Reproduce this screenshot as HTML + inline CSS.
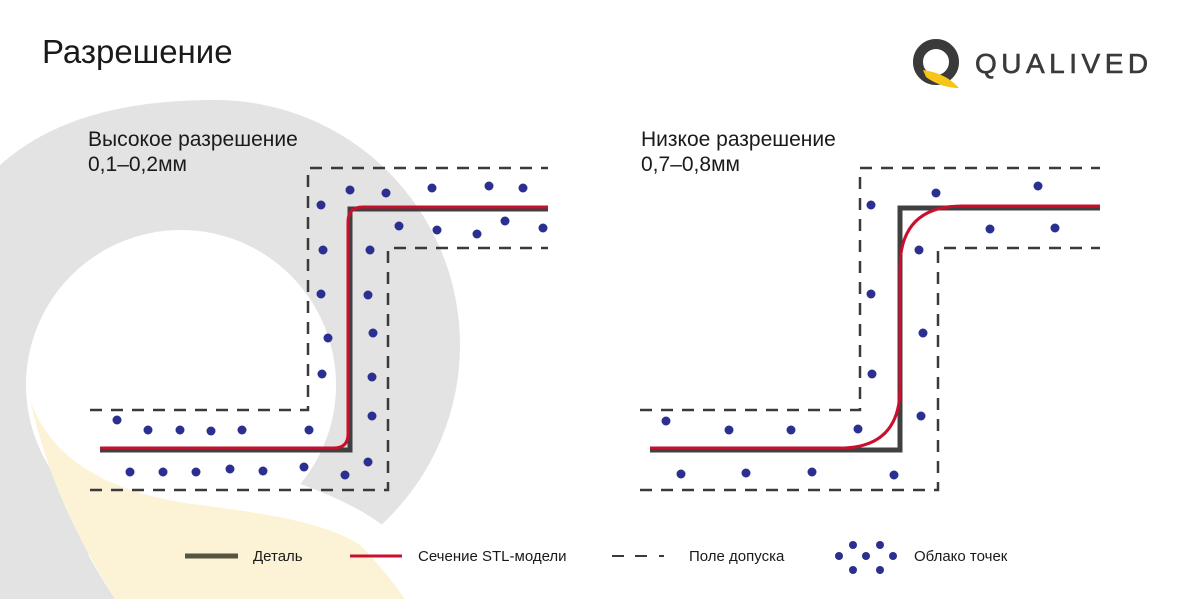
<!DOCTYPE html>
<html><head><meta charset="utf-8"><style>
html,body{margin:0;padding:0;background:#fff;}
svg{display:block;font-family:"Liberation Sans",sans-serif;}
</style></head><body>
<svg width="1200" height="599" viewBox="0 0 1200 599" xmlns="http://www.w3.org/2000/svg">
<rect width="1200" height="599" fill="#fff"/>
<!-- background Q -->
<circle cx="215" cy="345" r="245" fill="#e3e3e3"/>
<path d="M0,165 C45,125 110,100 215,100 L215,320 L0,320 Z" fill="#e3e3e3"/>
<path d="M0,300 L0,599 L115,599 C70,530 45,470 28,390 Z" fill="#e3e3e3"/>
<circle cx="181" cy="385" r="155" fill="#fff"/>
<path d="M250,468 C320,488 370,510 400,540 C420,562 440,590 446,599 L115,599 C72,530 46,470 30,400 L60,420 Z" fill="#fff"/>
<path d="M30,400 C50,455 100,492 200,505 C280,515 330,525 360,545 C380,565 395,585 405,599 L115,599 C72,530 46,470 30,400 Z" fill="#fcf3d7"/>

<text x="42" y="63" font-size="33" fill="#1a1a1a">Разрешение</text>
<text x="88" y="146" font-size="21" fill="#1a1a1a">Высокое разрешение</text>
<text x="88" y="171" font-size="21" fill="#1a1a1a">0,1–0,2мм</text>
<text x="641" y="146" font-size="21" fill="#1a1a1a">Низкое разрешение</text>
<text x="641" y="171" font-size="21" fill="#1a1a1a">0,7–0,8мм</text>

<!-- logo -->
<circle cx="936" cy="62" r="18" fill="none" stroke="#3a3a3a" stroke-width="10"/>
<path d="M923,70 C936,72 948,76 959,88 C946,88 934,83 926,77 Z" fill="#f5c518"/>
<text x="975" y="73" font-size="28" fill="#3a3a3a" letter-spacing="4.5" stroke="#3a3a3a" stroke-width="0.6">QUALIVED</text>

<g fill="none" stroke="#3a3a3a" stroke-width="2.5" stroke-dasharray="12,9">
<path d="M90,410 H308 V168 H548"/>
<path d="M90,490 H388 V248 H548"/>
<path d="M640,410 H860 V168 H1100"/>
<path d="M640,490 H938 V248 H1100"/>
</g>
<g fill="none" stroke="#404040" stroke-width="5">
<path d="M100,450 H350 V209 H548"/>
<path d="M650,450 H900 V208 H1100"/>
</g>
<g fill="none" stroke="#c8102e" stroke-width="3">
<path d="M100,448 H334 Q348,448 348,434 V222 Q348,207 363,207 H548"/>
<path d="M650,448 H840 Q900,448 900,388 V268 Q900,206 962,206 H1100"/>
</g>
<g fill="#2b2f8f">
<circle cx="117" cy="420" r="4.5"/><circle cx="148" cy="430" r="4.5"/><circle cx="180" cy="430" r="4.5"/><circle cx="211" cy="431" r="4.5"/><circle cx="242" cy="430" r="4.5"/><circle cx="309" cy="430" r="4.5"/>
<circle cx="130" cy="472" r="4.5"/><circle cx="163" cy="472" r="4.5"/><circle cx="196" cy="472" r="4.5"/><circle cx="230" cy="469" r="4.5"/><circle cx="263" cy="471" r="4.5"/><circle cx="304" cy="467" r="4.5"/><circle cx="345" cy="475" r="4.5"/><circle cx="368" cy="462" r="4.5"/>
<circle cx="350" cy="190" r="4.5"/><circle cx="386" cy="193" r="4.5"/><circle cx="432" cy="188" r="4.5"/><circle cx="489" cy="186" r="4.5"/><circle cx="523" cy="188" r="4.5"/><circle cx="321" cy="205" r="4.5"/>
<circle cx="399" cy="226" r="4.5"/><circle cx="437" cy="230" r="4.5"/><circle cx="477" cy="234" r="4.5"/><circle cx="505" cy="221" r="4.5"/><circle cx="543" cy="228" r="4.5"/>
<circle cx="370" cy="250" r="4.5"/><circle cx="368" cy="295" r="4.5"/><circle cx="373" cy="333" r="4.5"/><circle cx="372" cy="377" r="4.5"/><circle cx="372" cy="416" r="4.5"/>
<circle cx="323" cy="250" r="4.5"/><circle cx="321" cy="294" r="4.5"/><circle cx="328" cy="338" r="4.5"/><circle cx="322" cy="374" r="4.5"/>

<circle cx="871" cy="205" r="4.5"/><circle cx="936" cy="193" r="4.5"/><circle cx="1038" cy="186" r="4.5"/><circle cx="990" cy="229" r="4.5"/><circle cx="1055" cy="228" r="4.5"/>
<circle cx="919" cy="250" r="4.5"/><circle cx="871" cy="294" r="4.5"/><circle cx="923" cy="333" r="4.5"/><circle cx="872" cy="374" r="4.5"/><circle cx="921" cy="416" r="4.5"/>
<circle cx="666" cy="421" r="4.5"/><circle cx="729" cy="430" r="4.5"/><circle cx="791" cy="430" r="4.5"/><circle cx="858" cy="429" r="4.5"/>
<circle cx="681" cy="474" r="4.5"/><circle cx="746" cy="473" r="4.5"/><circle cx="812" cy="472" r="4.5"/><circle cx="894" cy="475" r="4.5"/>
<!-- legend cloud -->
<circle cx="839" cy="556" r="4"/><circle cx="853" cy="545" r="4"/><circle cx="880" cy="545" r="4"/><circle cx="866" cy="556" r="4"/><circle cx="893" cy="556" r="4"/><circle cx="853" cy="570" r="4"/><circle cx="880" cy="570" r="4"/>
</g>
<!-- legend -->
<line x1="185" y1="556" x2="238" y2="556" stroke="#55553f" stroke-width="5"/>
<text x="253" y="561" font-size="15" fill="#1a1a1a">Деталь</text>
<line x1="350" y1="556" x2="402" y2="556" stroke="#c8102e" stroke-width="3"/>
<text x="418" y="561" font-size="15" fill="#1a1a1a">Сечение STL-модели</text>
<g stroke="#3a3a3a" stroke-width="2"><line x1="612" y1="556" x2="624" y2="556"/><line x1="635" y1="556" x2="647" y2="556"/><line x1="659" y1="556" x2="664" y2="556"/></g>
<text x="689" y="561" font-size="15" fill="#1a1a1a">Поле допуска</text>
<text x="914" y="561" font-size="15" fill="#1a1a1a">Облако точек</text>
</svg>
</body></html>
